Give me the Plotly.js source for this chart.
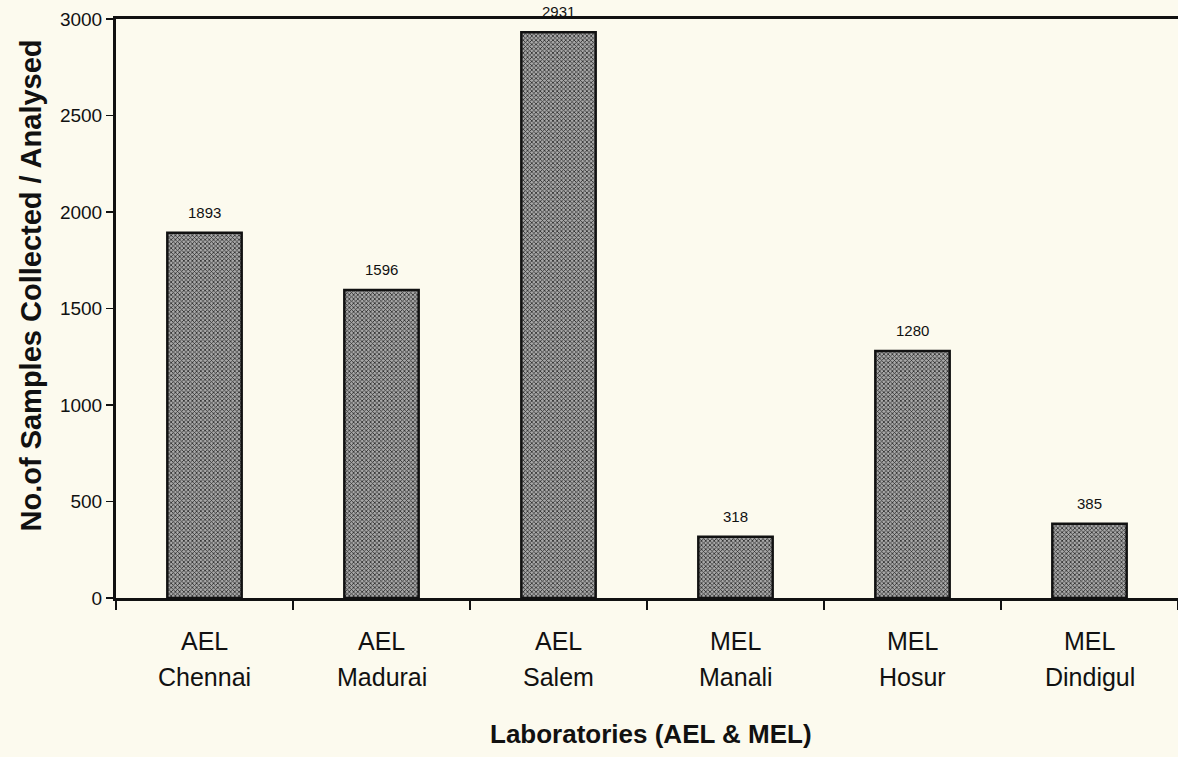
<!DOCTYPE html>
<html>
<head>
<meta charset="utf-8">
<script src="https://cdn.plot.ly/plotly-3.0.1.min.js"></script>
<style>
  html, body { margin: 0; padding: 0; background: #fcfaee; }
  #chart { width: 1178px; height: 757px; }
</style>
</head>
<body>
<div id="chart"></div>
<script>
// Data
const labTypes = ['AEL', 'AEL', 'AEL', 'MEL', 'MEL', 'MEL'];
const labCities = ['Chennai', 'Madurai', 'Salem', 'Manali', 'Hosur', 'Dindigul'];
const samples = [1893, 1596, 2931, 318, 1280, 385];
const yTicks = [0, 500, 1000, 1500, 2000, 2500, 3000];

const FONT = 'Liberation Sans, Arial, Helvetica, sans-serif';

const trace = {
  type: 'bar',
  x: labCities,
  y: samples,
  width: 0.42,
  marker: {
    color: '#8c8c8c',
    line: { color: '#111', width: 2.5 },
    pattern: { shape: 'x', size: 3, solidity: 0.45, fgcolor: '#2a2a2a', bgcolor: '#a8a8a8', fillmode: 'replace' }
  },
  hoverinfo: 'x+y'
};

const annotations = [];
labCities.forEach((c, i) => {
  annotations.push({
    x: c, y: samples[i], xref: 'x', yref: 'y',
    text: String(samples[i]), showarrow: false,
    yanchor: 'bottom', yshift: 10,
    font: { family: FONT, size: 15, color: '#111' }
  });
  annotations.push({
    x: c, y: 0, xref: 'x', yref: 'paper',
    text: labTypes[i], showarrow: false,
    yanchor: 'middle', yshift: -43,
    font: { family: FONT, size: 25, color: '#111' }
  });
  annotations.push({
    x: c, y: 0, xref: 'x', yref: 'paper',
    text: c, showarrow: false,
    yanchor: 'middle', yshift: -79,
    font: { family: FONT, size: 25, color: '#111' }
  });
});
annotations.push({
  x: 0.5, y: 0, xref: 'paper', yref: 'paper',
  text: '<b>Laboratories (AEL & MEL)</b>', showarrow: false,
  yanchor: 'middle', yshift: -136, xshift: 4,
  font: { family: FONT, size: 26, color: '#111' }
});
annotations.push({
  x: 0, y: 0.5, xref: 'paper', yref: 'paper',
  text: '<b>No.of Samples Collected / Analysed</b>', showarrow: false,
  textangle: -90, xanchor: 'center', xshift: -86, yshift: 23,
  font: { family: FONT, size: 29, color: '#111' }
});

const layout = {
  width: 1178, height: 757,
  margin: { l: 116, r: 0, t: 19, b: 159 },
  paper_bgcolor: '#fcfaee',
  plot_bgcolor: '#fcfaee',
  showlegend: false,
  bargap: 0.58,
  xaxis: {
    type: 'category',
    showline: true, linecolor: '#111', linewidth: 3,
    mirror: true,
    ticks: 'outside', tickson: 'boundaries', ticklen: 9, tickwidth: 1.5, tickcolor: '#111',
    showticklabels: false,
    showgrid: false, zeroline: false
  },
  yaxis: {
    range: [0, 3000],
    tickvals: yTicks,
    showline: true, linecolor: '#111', linewidth: 3,
    ticks: 'outside', ticklen: 7, tickwidth: 1.5, tickcolor: '#111',
    tickfont: { family: FONT, size: 19, color: '#111' },
    showgrid: false, zeroline: false
  },
  annotations: annotations
};

Plotly.newPlot('chart', [trace], layout, { displayModeBar: false, staticPlot: true });
</script>
</body>
</html>
